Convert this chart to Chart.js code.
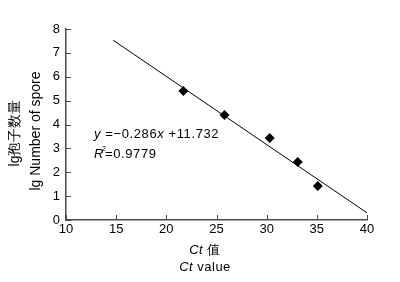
<!DOCTYPE html>
<html>
<head>
<meta charset="utf-8">
<script src="https://cdn.jsdelivr.net/npm/chart.js@4"></script>
<style>
  html, body { margin: 0; padding: 0; background: #fff; }
  canvas { display: block; }
</style>
</head>
<body>
<canvas id="chart" width="400" height="282"></canvas>
<script>
// data
const ctValues = [21.7, 25.8, 30.3, 33.1, 35.1]
const lgSpores = [5.4, 4.4, 3.43, 2.43, 1.42]
// ends of the fitted line
const fitX = [14.7, 40]
const fitY = [7.53, 0.3]
const xTicks = [10, 15, 20, 25, 30, 35, 40]
const yTicks = [0, 1, 2, 3, 4, 5, 6, 7, 8]

const FONT = '"Liberation Sans", Arial, sans-serif'
const AXIS_COLOR = '#4a4a4a'

const ctx = document.getElementById('chart').getContext('2d')

// inward tick marks + axis titles + equation text
const extras = {
    id: 'extras',
    afterDraw(chart) {
        const c = chart.ctx
        const area = chart.chartArea
        const xs = chart.scales.x
        const ys = chart.scales.y
        c.save()
        c.strokeStyle = AXIS_COLOR
        c.lineWidth = 1
        xTicks.forEach(v => {
            const px = Math.round(xs.getPixelForValue(v)) + 0.5
            c.beginPath()
            c.moveTo(px, area.bottom)
            c.lineTo(px, area.bottom - 5)
            c.stroke()
        })
        yTicks.forEach(v => {
            const py = Math.round(ys.getPixelForValue(v)) + 0.5
            c.beginPath()
            c.moveTo(area.left, py)
            c.lineTo(area.left + 5, py)
            c.stroke()
        })

        c.fillStyle = '#000'
        c.textBaseline = 'alphabetic'

        // equation
        let x = 94
        const drawPart = (txt, italic, y, size) => {
            c.font = (italic ? 'italic ' : '') + (size || 13) + 'px ' + FONT
            c.fillText(txt, x, y)
            x += c.measureText(txt).width
        }
        c.letterSpacing = '0.6px'
        drawPart('y', true, 138)
        drawPart(' =\u22120.286', false, 138)
        drawPart('x', true, 138)
        drawPart(' +11.732', false, 138)
        x = 94
        drawPart('R', true, 158)
        c.font = '7px ' + FONT
        c.fillText('2', x - 2, 151)
        x += 1
        drawPart('=0.9779', false, 158)
        c.letterSpacing = '0px'

        // x title, two lines
        const cx = 205
        const centerLine = (parts, y) => {
            let w = 0
            parts.forEach(p => {
                c.font = (p[1] ? 'italic ' : '') + '13px ' + FONT
                w += c.measureText(p[0]).width
            })
            x = cx - w / 2
            parts.forEach(p => drawPart(p[0], p[1], y))
        }
        c.letterSpacing = '0.5px'
        centerLine([['Ct', true], [' \u503c', false]], 254)
        centerLine([['Ct', true], [' value', false]], 271)
        c.letterSpacing = '0px'

        // y title, rotated
        c.save()
        c.rotate(-Math.PI / 2)
        c.textAlign = 'center'
        c.font = '14px ' + FONT
        c.fillText('lg\u5b62\u5b50\u6570\u91cf', -133, 19)
        c.fillText('lg Number of spore', -131, 40)
        c.restore()
        c.restore()
    }
}

new Chart(ctx, {
    type: 'scatter',
    data: {
        datasets: [
            {
                label: 'spores',
                data: ctValues.map((v, i) => ({x: v, y: lgSpores[i]})),
                pointStyle: 'rectRot',
                radius: 5,
                backgroundColor: '#000',
                borderColor: '#000',
                borderWidth: 0
            },
            {
                label: 'fit',
                data: fitX.map((v, i) => ({x: v, y: fitY[i]})),
                showLine: true,
                borderColor: '#000',
                borderWidth: 1,
                pointRadius: 0
            }
        ]
    },
    options: {
        responsive: false,
        animation: false,
        devicePixelRatio: 1,
        layout: {padding: {top: 29, right: 33, left: 0, bottom: 0}},
        plugins: {
            legend: {display: false},
            tooltip: {enabled: false}
        },
        scales: {
            x: {
                type: 'linear',
                min: 10,
                max: 40,
                afterFit: s => { s.height = 62 },
                afterBuildTicks: s => { s.ticks = xTicks.map(v => ({value: v})) },
                grid: {display: false, drawTicks: false},
                border: {display: true, color: AXIS_COLOR, width: 1.5},
                ticks: {color: '#000', padding: 2, font: {family: FONT, size: 13}}
            },
            y: {
                min: 0,
                max: 8,
                afterFit: s => { s.width = 66 },
                afterBuildTicks: s => { s.ticks = yTicks.map(v => ({value: v})) },
                grid: {display: false, drawTicks: false},
                border: {display: true, color: AXIS_COLOR, width: 1.5},
                ticks: {color: '#000', padding: 6, font: {family: FONT, size: 13}}
            }
        }
    },
    plugins: [extras]
})
</script>
</body>
</html>
